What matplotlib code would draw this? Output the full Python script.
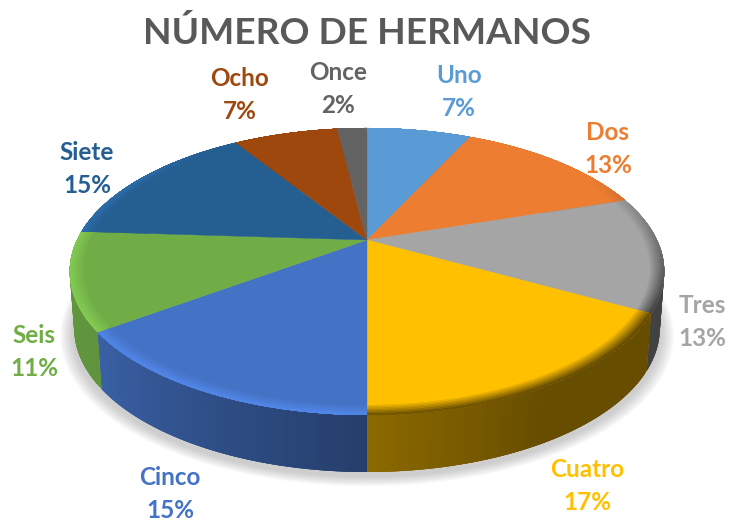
import numpy as np
from matplotlib import pyplot as plt
from matplotlib.collections import PolyCollection
from matplotlib.colors import to_rgb

names = ["Uno", "Dos", "Tres", "Cuatro", "Cinco", "Seis", "Siete", "Ocho", "Once"]
values = [7, 13, 13, 17, 15, 11, 15, 7, 2]
colors = ["#5B9BD5", "#ED7D31", "#A5A5A5", "#FFC000", "#4472C4",
          "#70AD47", "#255E91", "#9E480E", "#636363"]
label_x = [459, 608, 702, 587, 170, 34, 87, 240, 338]
label_y = [92, 149, 322, 486, 494, 352, 169, 95, 89]

# pie geometry in pixels, perspective of the disc
CX, CY = 367, 240
RX, RY, K = 290, 136.6, 0.2195
DEPTH = 57


def project(theta, r=1.0, drop=0.0, shrink=1.0):
    # theta in degrees clockwise from the top of the pie
    t = np.radians(theta)
    u, v = r * np.sin(t), r * np.cos(t)
    w = 1 + K * v
    return np.column_stack((CX + shrink * RX * u / w, CY - RY * v / w + drop))


def side_shade(theta):
    return np.interp(theta, [60, 150, 180, 234, 290], [0.4, 0.4, 0.55, 0.85, 0.88])


def rim_shade(theta):
    # darker rim on the right, lighter rim on the left
    return np.interp(theta, [60, 85, 120, 179.9, 180, 300, 320],
                     [1.0, 0.75, 0.4, 0.45, 1.18, 1.15, 1.0])


def shade(col, f):
    return tuple(np.clip(np.array(to_rgb(col)) * f, 0, 1))


def sweep(i):
    th = np.arange(edges[i], edges[i + 1] + 0.5, 0.75)
    th[-1] = edges[i + 1]
    return th


fig = plt.figure(figsize=(7.29, 5.23), dpi=100)
ax = fig.add_axes([0, 0, 1, 1])
ax.set_xlim(0, 729)
ax.set_ylim(523, 0)
ax.axis("off")

# soft shadow
ring = np.linspace(0, 360, 361)
for r in np.linspace(1.04, 1.0, 10):
    ax.fill(*project(ring, r, DEPTH + 5, 0.99).T, color="#808080", alpha=0.045, lw=0, zorder=1)

edges = np.concatenate(([0], np.cumsum(values))) * 360.0 / sum(values)

# side wall, each strip overlaps the next so no seams show
quads, fills = [], []
for i, col in enumerate(colors):
    th = sweep(i)
    up = project(th, 1.0, 0)
    low = project(th, 1.0, DEPTH, 0.985)
    for j in range(len(th) - 1):
        k = min(j + 3, len(th) - 1)
        quads.append(np.vstack((up[j:k + 1], low[j:k + 1][::-1])))
        fills.append(shade(col, side_shade(th[j])))
ax.add_collection(PolyCollection(quads, facecolors=fills, linewidths=0, zorder=2))

# bevelled rim, each ring runs out to the edge and the next one paints over it
quads, fills = [], []
steps = np.linspace(0.955, 1.0, 8)[:-1]
for i, col in enumerate(colors):
    th = sweep(i)
    outer = project(th, 1.0)
    for n in range(len(steps)):
        inner = project(th, steps[n])
        mix = (n + 1) / len(steps)
        for j in range(len(th) - 1):
            k = min(j + 3, len(th) - 1)
            quads.append(np.vstack((inner[j:k + 1], outer[j:k + 1][::-1])))
            fills.append(shade(col, 1 + (rim_shade(th[j]) - 1) * mix))
ax.add_collection(PolyCollection(quads, facecolors=fills, linewidths=0, zorder=3))

# top face
for i, col in enumerate(colors):
    th = np.linspace(edges[i], edges[i + 1], 80)
    arc = project(th, 0.957)
    pts = np.vstack(([[CX, CY]], arc))
    ax.fill(pts[:, 0], pts[:, 1], color=col, lw=0.3, zorder=2.5)

ax.text(367, 33, "NÚMERO DE HERMANOS", ha="center", va="center", family="Lato",
        fontweight="bold", fontsize=26.7, color="#595959")

for i in range(len(names)):
    ax.text(label_x[i], label_y[i], f"{names[i]}\n{values[i]}%", ha="center", va="center",
            family="Lato", fontweight="bold", fontsize=17.5, color=colors[i], linespacing=1.55)

fig.savefig("out.png", dpi=100)
